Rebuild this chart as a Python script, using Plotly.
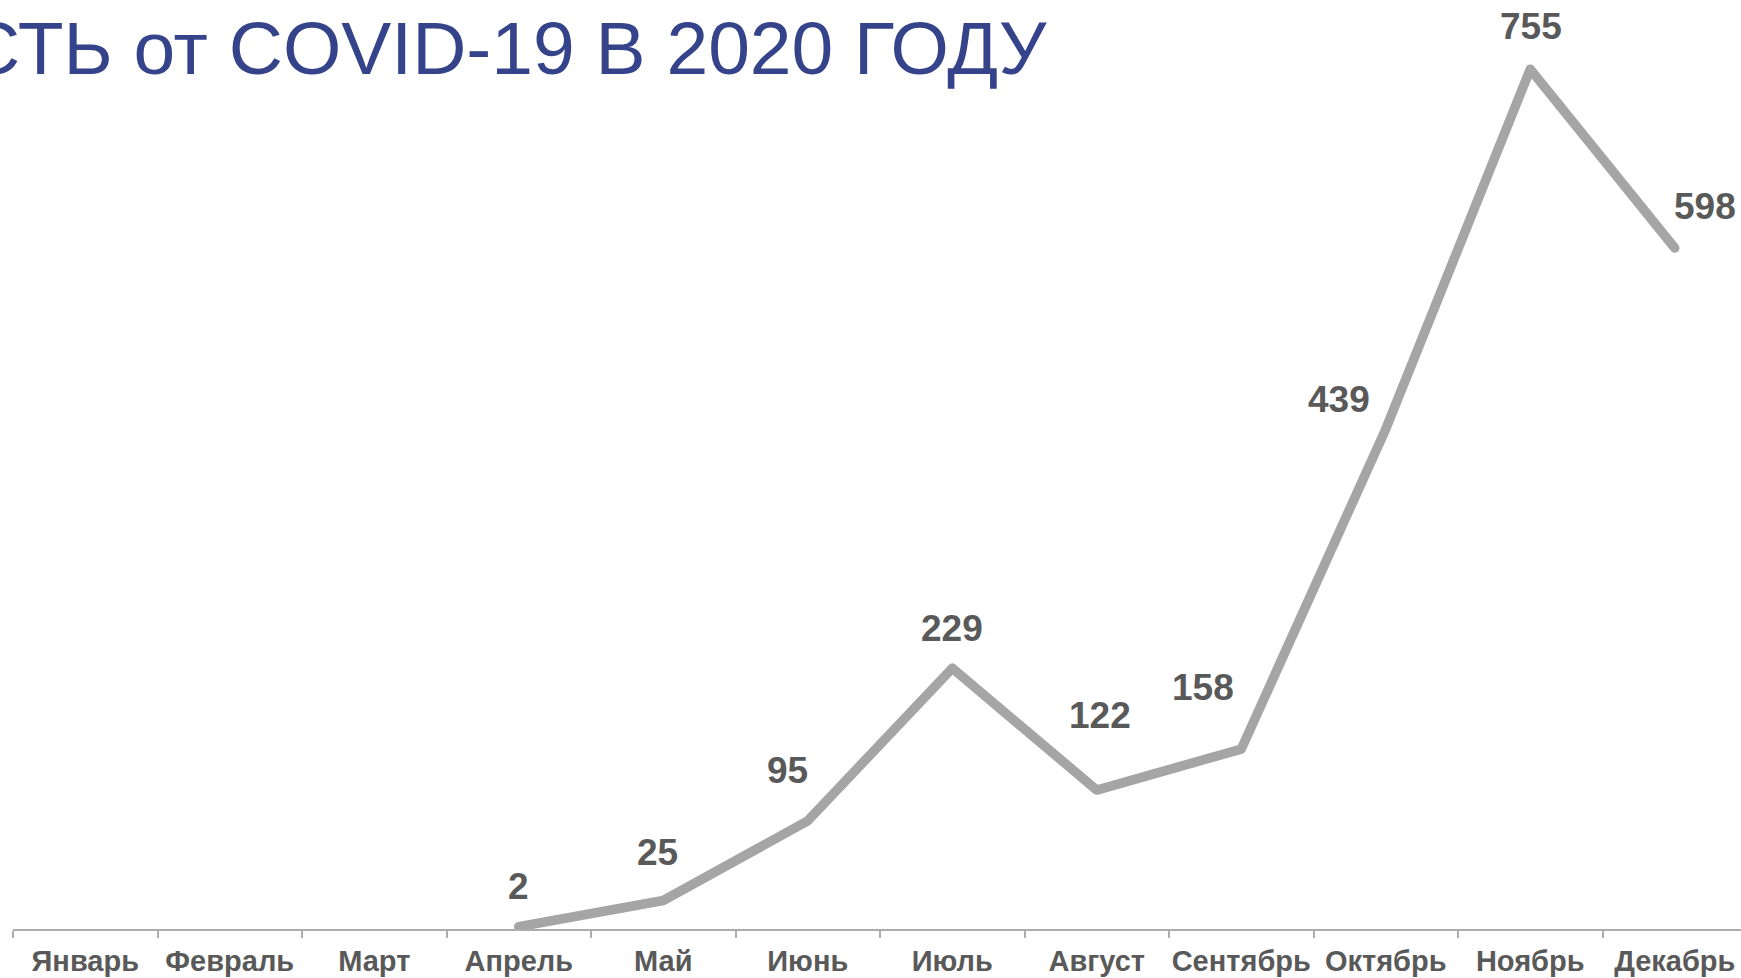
import plotly.graph_objects as go

months = ["Январь", "Февраль", "Март", "Апрель", "Май", "Июнь", "Июль",
          "Август", "Сентябрь", "Октябрь", "Ноябрь", "Декабрь"]
deaths = [None, None, None, 2, 25, 95, 229, 122, 158, 439, 755, 598]
title_text = "СТЬ от COVID-19 В 2020 ГОДУ"

# label offsets in pixels (layout only)
label_dx = [0, 0, 0, 0, -6, -20, 0, 3, -38, -47, 1, 30]
label_dy = [0, 0, 0, 40, 48, 50, 40, 75, 62, 30, 43, 42]

W, H = 1741, 978
L, R, T, B = 13, 0, 18, 49
plot_w = W - L - R
plot_h = H - T - B
cat_w = 144.5

fig = go.Figure()
fig.add_trace(go.Scatter(
    x=months, y=deaths, mode="lines",
    line=dict(color="#A5A5A5", width=9.5),
    connectgaps=False, hoverinfo="skip", showlegend=False,
))

for m, v, dx, dy in zip(months, deaths, label_dx, label_dy):
    if v is None:
        continue
    fig.add_annotation(
        x=m, y=v, xref="x", yref="y", text=str(v), showarrow=False,
        xshift=dx, yshift=dy,
        font=dict(family="Liberation Sans, Arial", size=37, color="#595959", weight="bold"),
    )

fig.add_annotation(
    xref="paper", yref="paper",
    x=(1050 - L) / plot_w, y=(H - B - 48) / plot_h,
    xanchor="right", yanchor="middle", showarrow=False,
    text=title_text,
    font=dict(family="Liberation Sans, Arial", size=75, color="#34438A"),
)

fig.update_layout(
    width=W, height=H,
    margin=dict(l=L, r=R, t=T, b=B, pad=0, autoexpand=False),
    paper_bgcolor="white", plot_bgcolor="white",
    xaxis=dict(
        type="category", categoryorder="array", categoryarray=months,
        range=[-0.5, -0.5 + plot_w / cat_w],
        showgrid=False, zeroline=False,
        showline=True, linecolor="#ADADAD", linewidth=2,
        ticks="outside", tickson="boundaries", ticklen=7, tickcolor="#ADADAD", tickwidth=1.5,
        ticklabelstandoff=5, tickangle=0, automargin=False,
        tickfont=dict(family="Liberation Sans, Arial", size=29, color="#595959", weight="bold"),
        fixedrange=True,
    ),
    yaxis=dict(
        range=[0, 800], visible=False, showgrid=False, zeroline=False, fixedrange=True,
    ),
)

post = (
    "document.body.style.margin='0';"
    "document.body.style.overflow='hidden';"
    "document.querySelectorAll('.scatterlayer path.js-line').forEach(function(p){"
    "p.style.strokeLinejoin='round';p.style.strokeLinecap='round';});"
)
fig.write_html("out.html", post_script=post, config={"displayModeBar": False})
